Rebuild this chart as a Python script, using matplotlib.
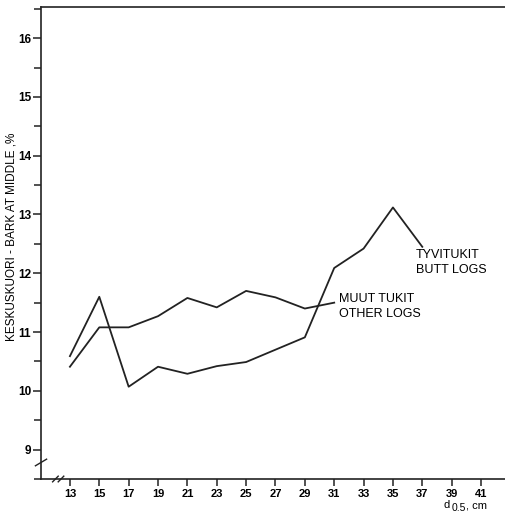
import numpy as np
import matplotlib.pyplot as plt
from matplotlib.ticker import MultipleLocator

# diameter classes, cm
d_butt = [13, 15, 17, 19, 21, 23, 25, 27, 29, 31, 33, 35, 37]
bark_butt = [10.59, 11.6, 10.07, 10.41, 10.29, 10.42, 10.49, 10.7, 10.91, 12.09, 12.42, 13.12, 12.45]

d_other = [13, 15, 17, 19, 21, 23, 25, 27, 29, 31]
bark_other = [10.41, 11.08, 11.08, 11.27, 11.58, 11.42, 11.7, 11.59, 11.4, 11.5]

xticks = list(range(13, 42, 2))
yticks = list(range(9, 17))

plt.rcParams['font.family'] = ['Liberation Sans', 'DejaVu Sans']

W, H = 506, 512
fig = plt.figure(figsize=(W / 100, H / 100), dpi=100)
ax = fig.add_axes([41 / W, 1 - 479 / H, 1 - 41 / W, (479 - 7) / H])

ax.plot(d_butt, bark_butt, color='#222222', lw=1.3)
ax.plot(d_other, bark_other, color='#222222', lw=1.3)

ax.set_xlim(11.03, 42.7)
ax.set_ylim(8.5, 16.53)

ax.set_xticks(xticks)
ax.set_yticks(yticks)
ax.yaxis.set_minor_locator(MultipleLocator(0.5))
ax.tick_params(axis='both', which='both', direction='out', color='#222222', width=1.1, labelsize=8)
ax.tick_params(axis='y', which='major', length=6, pad=1, labelsize=8.5)
ax.tick_params(axis='y', which='minor', length=5)
ax.tick_params(axis='x', which='major', length=5, pad=2)
for lab in ax.get_xticklabels() + ax.get_yticklabels():
    lab.set_fontweight('bold')

ax.spines['right'].set_visible(False)
for s in ['left', 'bottom', 'top']:
    ax.spines[s].set_color('#222222')
    ax.spines[s].set_linewidth(1.2)

ax.set_ylabel('KESKUSKUORI - BARK AT MIDDLE ,%', fontsize=8.5)
ax.yaxis.set_label_coords(-0.05, 0.513)

# x label "d 0.5, cm" with the 0.5 set a little lower
fig.text(443 / W, 1 - 508 / H, 'd', fontsize=8, va='baseline', ha='left')
fig.text(452 / W, 1 - 511 / H, '0.5', fontsize=7.5, va='baseline', ha='left')
fig.text(466 / W, 1 - 508 / H, ', cm', fontsize=8, va='baseline', ha='left')

ax.text(36.55, 12.18, 'TYVITUKIT\nBUTT LOGS', fontsize=9,
        va='center', ha='left', linespacing=1.3)
ax.text(31.3, 11.44, 'MUUT TUKIT\nOTHER LOGS', fontsize=9,
        va='center', ha='left', linespacing=1.3)

# axis break marks
kw = dict(transform=ax.transAxes, color='#222222', lw=1.0, clip_on=False)
for dx in (0.0, 0.012):
    ax.plot([0.025 + dx, 0.037 + dx], [-0.006, 0.006], **kw)
ax.plot([0.0, 0.0], [0.028, 0.042], color='white', lw=2, transform=ax.transAxes, clip_on=False)
ax.plot([-0.012, 0.012], [0.028, 0.042], **kw)

fig.savefig('out.png', dpi=100)
